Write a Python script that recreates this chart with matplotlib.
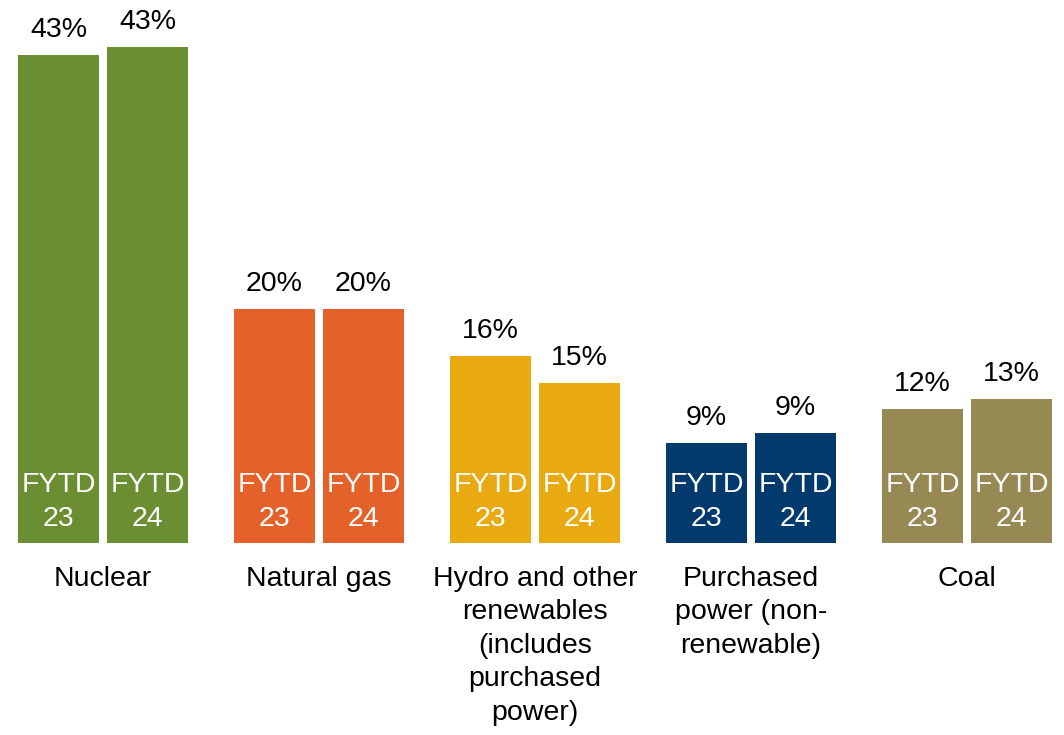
import numpy as np
import matplotlib.pyplot as plt

plt.rcParams['font.family'] = ['Liberation Sans', 'DejaVu Sans']

categories = ["Nuclear", "Natural gas",
              "Hydro and other\nrenewables\n(includes\npurchased\npower)",
              "Purchased\npower (non-\nrenewable)", "Coal"]
fytd23 = [43.0, 20.6, 16.5, 8.8, 11.8]
fytd24 = [43.7, 20.6, 14.1, 9.7, 12.7]
labels23 = ["43%", "20%", "16%", "9%", "12%"]
labels24 = ["43%", "20%", "15%", "9%", "13%"]
periods = ["FYTD\n23", "FYTD\n24"]
colors = ["#6B8E33", "#E4622A", "#E8A911", "#023A6E", "#968954"]

fig = plt.figure(figsize=(10.64, 7.35), dpi=100)
ax = fig.add_axes([0, 1 - 543 / 735, 1, 543 / 735])

x = np.arange(len(categories))
width = 0.375
offset = 0.206
fs = 20.5

for vals, labs, per, sign in [(fytd23, labels23, periods[0], -1), (fytd24, labels24, periods[1], 1)]:
    xs = x + sign * offset
    ax.bar(xs, vals, width=width, color=colors)
    top, bottom = per.split("\n")
    for xi, v, lab in zip(xs, vals, labs):
        ax.annotate(lab, (xi, v), xytext=(0, 13), textcoords="offset points",
                    ha="center", va="baseline", fontsize=fs, color="black")
        ax.annotate(top, (xi, 0), xytext=(0, 36.5), textcoords="offset points",
                    ha="center", va="baseline", fontsize=fs, color="white")
        ax.annotate(bottom, (xi, 0), xytext=(0, 12.2), textcoords="offset points",
                    ha="center", va="baseline", fontsize=fs, color="white")

ax.set_xticks(x)
ax.set_xticklabels(categories, fontsize=fs)
for t in ax.get_xticklabels():
    t.set_linespacing(1.37)
ax.tick_params(axis="x", length=0, pad=16.5)
ax.set_yticks([])
ax.set_xlim(-103 / 216, (1064 - 103) / 216)
ax.set_ylim(0, 543 / 11.35)
for s in ax.spines.values():
    s.set_visible(False)

fig.savefig("out.png", dpi=100)
